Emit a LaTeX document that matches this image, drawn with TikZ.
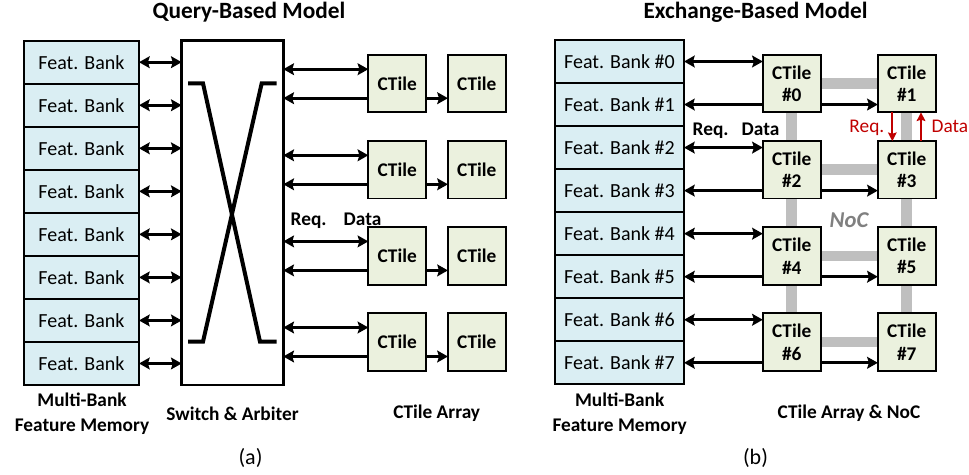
\documentclass[tikz,border=0pt]{standalone}
\usepackage{fontspec}
\setmainfont{Carlito}
\usetikzlibrary{arrows.meta,backgrounds,calc}
\definecolor{bankfill}{RGB}{218,238,243}
\definecolor{tilefill}{RGB}{235,241,222}
\definecolor{nocgray}{RGB}{191,191,191}
\definecolor{noctext}{RGB}{128,128,128}
\definecolor{reqred}{RGB}{192,0,0}
\tikzset{
  txt/.style={font=\fontsize{15}{17}\selectfont},
  bold txt/.style={font=\fontsize{14.5}{18.75}\selectfont\bfseries},
  title txt/.style={font=\fontsize{17.5}{20}\selectfont\bfseries},
  bank/.style={draw, line width=1.4pt, fill=bankfill, minimum height=32.3pt,
    inner sep=0pt, outer sep=0pt, txt},
  tile/.style={draw, line width=1.4pt, fill=tilefill, minimum width=43.3pt,
    minimum height=43pt, inner sep=0pt, outer sep=0pt, align=center,
    font=\fontsize{14.5}{17}\selectfont\bfseries},
  switchbox/.style={draw, line width=2.1pt, fill=white, minimum width=76.2pt,
    minimum height=258.2pt, inner sep=0pt, outer sep=0pt},
  head/.tip={Stealth[length=8pt,width=8.8pt,inset=1.3pt]},
  link/.style={line width=2.1pt, -head},
  dlink/.style={line width=2.1pt, head-head},
  redlink/.style={line width=1.5pt, draw=reqred, -{Stealth[length=6.5pt,width=6.5pt,inset=1pt]}},
  noc/.style={line width=8pt, draw=nocgray},
  xbar/.style={line width=3pt},
}
\begin{document}
\begin{tikzpicture}[x=0.75pt, y=-0.75pt]
\useasboundingbox (0,0) rectangle (969,474);

% ---------------- (a) query-based model ----------------
\node[title txt, anchor=base] (ta) at (249,19) {Query-Based Model};

\node[switchbox] (sw) at (232.5,212.85) {};
\draw[xbar] (188,83.3) -- (203,83.3) -- (260,341.7) -- (276.7,341.7);
\draw[xbar] (276.7,83.3) -- (261.7,83.3) -- (203,341.7) -- (188,341.7);

\foreach \k in {0,...,7} {
  \node[bank, minimum width=86.25pt] (ab\k) at (81.5,{62.2+43.04*\k}) {Feat. Bank};
  \draw[dlink] (ab\k.east) -- (ab\k.east -| sw.west);
}

\foreach \row in {0,...,3} {
  \node[tile] (at\row0) at (397.2,{83.7+86.1*\row}) {CTile};
  \node[tile] (at\row1) at (476.8,{83.7+86.1*\row}) {CTile};
  \coordinate (au\row) at ($(at\row0.west)+(0,-14.5)$);
  \coordinate (al\row) at ($(at\row0.west)+(0,14.5)$);
  \draw[dlink] (au\row -| sw.east) -- (au\row);
  \draw[link] (al\row) -- (al\row -| sw.east);
  \draw[link] (al\row -| at\row0.east) -- (al\row -| at\row1.west);
}

\node[bold txt, anchor=base west] (areq) at (286,225) {Req.};
\node[bold txt, anchor=base west] (adata) at (339,225) {Data};

\node[bold txt, align=center] (amem) at (82,414) {Multi-Bank\\Feature Memory};
\node[bold txt] (asw) at (232.5,413.3) {Switch \& Arbiter};
\node[bold txt] (aarr) at (436.7,413.3) {CTile Array};
\node[font=\fontsize{16.5}{19}\selectfont] (capa) at (250.5,458) {(a)};

% ---------------- (b) exchange-based model ----------------
\node[title txt, anchor=base] (tb) at (755.5,19) {Exchange-Based Model};

\foreach \k in {0,...,7} {
  \node[bank, minimum width=96.75pt] (bb\k) at (619.5,{61.5+43.04*\k}) {Feat. Bank \#\k};
}

\foreach \row in {0,...,3} {
  \pgfmathtruncatemacro\ia{2*\row}
  \pgfmathtruncatemacro\ib{2*\row+1}
  \node[tile] (bt\ia) at (791.7,{83.7+86.1*\row}) {CTile\\\#\ia};
  \node[tile] (bt\ib) at (906.7,{83.7+86.1*\row}) {CTile\\\#\ib};
  \draw[dlink] (bb\ia.east) -- (bb\ia.east -| bt\ia.west);
  \draw[link] (bb\ib.east -| bt\ia.west) -- (bb\ib.east);
  \draw[link] (bb\ib.east -| bt\ia.east) -- (bb\ib.east -| bt\ib.west);
}

% mesh network behind the tiles
\begin{scope}[on background layer]
  \foreach \a/\b in {0/1,2/3,4/5,6/7,0/2,2/4,4/6,1/3,3/5,5/7}
    \draw[noc] (bt\a.center) -- (bt\b.center);
\end{scope}

% request / data between neighbouring tiles
\coordinate (rq) at ($(bt1.south)+(-14.4,0)$);
\coordinate (rd) at ($(bt3.north)+(14.3,0)$);
\draw[redlink] (rq) -- (rq |- bt3.north);
\draw[redlink] (rd) -- (rd |- bt1.south);
\node[font=\fontsize{14.5}{17}\selectfont, text=reqred, anchor=base east] (rreq) at (889,132.7) {Req.};
\node[font=\fontsize{14.5}{17}\selectfont, text=reqred, anchor=base west, inner xsep=1pt] (rdata) at (930,132.7) {Data};

\node[bold txt, anchor=base west] (breq) at (688,135.5) {Req.};
\node[bold txt, anchor=base west] (bdata) at (737,135.5) {Data};
\node[font=\fontsize{17}{20}\selectfont\bfseries\itshape, text=noctext, anchor=base] (noc) at (849,227.3) {NoC};

\node[bold txt, align=center] (bmem) at (619.7,414) {Multi-Bank\\Feature Memory};
\node[bold txt] (barr) at (849,413.3) {CTile Array \& NoC};
\node[font=\fontsize{16.5}{19}\selectfont] (capb) at (755.5,458) {(b)};
\end{tikzpicture}
\end{document}
